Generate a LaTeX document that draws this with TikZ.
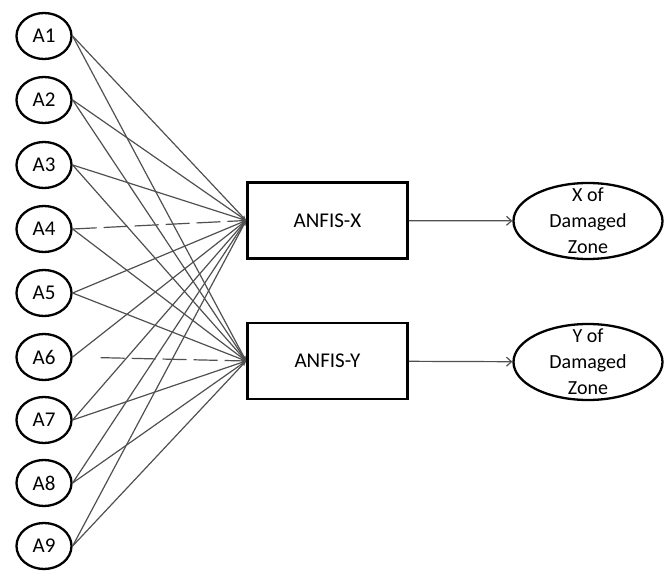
\documentclass[tikz,border=0pt]{standalone}
\usepackage{fontspec}
\setmainfont{Carlito}
\usepackage{tikz}
\usetikzlibrary{arrows.meta,shapes.geometric}
\definecolor{Wire}{HTML}{505050}

\begin{document}
\begin{tikzpicture}[
  x=1pt,y=-1pt,
  every node/.style={font=\fontsize{21}{26}\selectfont},
  inbox/.style={draw=black,line width=2.3pt,ellipse,minimum width=55pt,minimum height=46pt,inner sep=0pt},
  anfisbox/.style={draw=black,line width=2.8pt,rectangle,minimum width=160pt,minimum height=76pt,inner sep=0pt},
  outbox/.style={draw=black,line width=2.3pt,ellipse,minimum width=149pt,minimum height=76pt,inner sep=0pt},
  zonetext/.style={align=center,font=\fontsize{20}{26}\selectfont},
  wire/.style={-{Stealth[length=5pt,width=4pt]},line width=1.2pt,color=Wire},
  dwire/.style={wire,dash pattern=on 24pt off 7pt},
  outarr/.style={-{Straight Barb[length=5pt,width=9pt]},line width=1.2pt,color=Wire}
]
\useasboundingbox (0,0) rectangle (670,577);
\node[inbox] (a1) at (44,36) {A1};
\node[inbox] (a2) at (44,100) {A2};
\node[inbox] (a3) at (44,165) {A3};
\node[inbox] (a4) at (44,229) {A4};
\node[inbox] (a5) at (44,293) {A5};
\node[inbox] (a6) at (44,357) {A6};
\node[inbox] (a7) at (44,420) {A7};
\node[inbox] (a8) at (44,483) {A8};
\node[inbox] (a9) at (44,546) {A9};
\node[anfisbox] (anfx) at (327.5,220.5) {ANFIS-X};
\node[anfisbox] (anfy) at (327.5,361) {ANFIS-Y};
\node[outbox,label={[zonetext]center:X of\\Damaged\\Zone}] (zonex) at (588,221) {};
\node[outbox,label={[zonetext]center:Y of\\Damaged\\Zone}] (zoney) at (588,362) {};
% inputs to ANFIS-X
\draw[wire] (a1.east) -- (anfx.west);
\draw[wire] (a2.east) -- (anfx.west);
\draw[wire] (a3.east) -- (anfx.west);
\draw[dwire] (a4.east) -- (anfx.west);
\draw[wire] (a5.east) -- (anfx.west);
\draw[wire] (a6.east) -- (anfx.west);
\draw[wire] (a7.east) -- (anfx.west);
\draw[wire] (a8.east) -- (anfx.west);
\draw[wire] (a9.east) -- (anfx.west);
% inputs to ANFIS-Y
\draw[wire] (a1.east) -- (anfy.west);
\draw[wire] (a2.east) -- (anfy.west);
\draw[wire] (a3.east) -- (anfy.west);
\draw[wire] (a4.east) -- (anfy.west);
\draw[wire] (a5.east) -- (anfy.west);
\draw[dwire,shorten <=28pt] (a6.east) -- (anfy.west);
\draw[wire] (a7.east) -- (anfy.west);
\draw[wire] (a8.east) -- (anfy.west);
\draw[wire] (a9.east) -- (anfy.west);
% outputs
\draw[outarr] (anfx) -- (zonex);
\draw[outarr] (anfy) -- (zoney);
\end{tikzpicture}
\end{document}
